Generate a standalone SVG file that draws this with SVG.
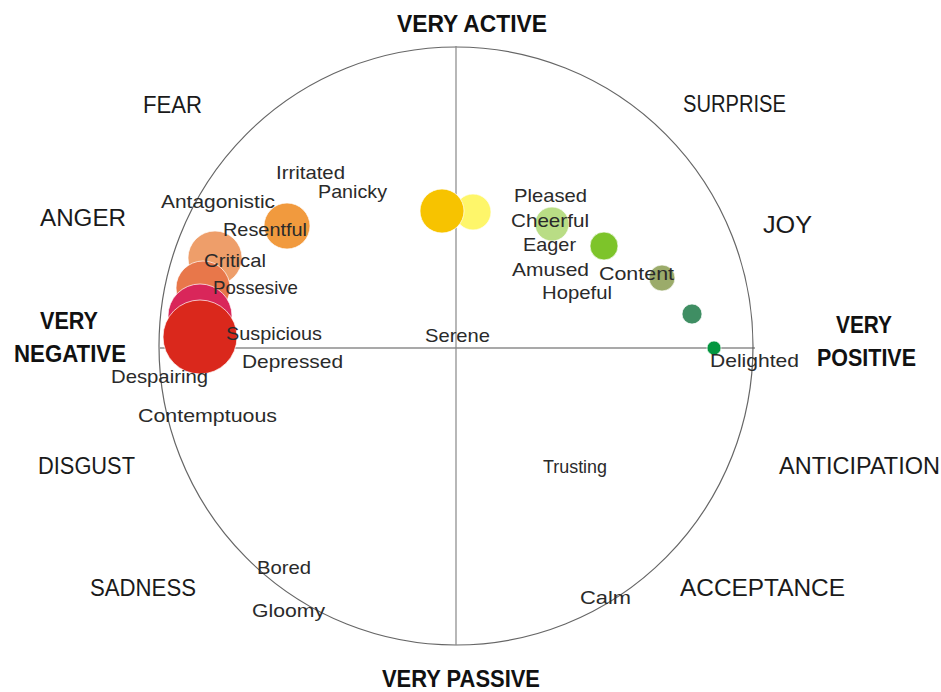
<svg xmlns="http://www.w3.org/2000/svg" width="941" height="692" viewBox="0 0 941 692">
<style>
.cat{font-family:"Liberation Sans",Arial,sans-serif;font-size:23px;fill:#1a1a1a}
.bold{font-family:"Liberation Sans",Arial,sans-serif;font-size:23px;font-weight:bold;fill:#111}
.lbl{font-family:"Liberation Sans",Arial,sans-serif;font-size:19px;fill:#2a2a2a}
.b{stroke:#fff;stroke-width:1;stroke-opacity:0.7}
</style>
<rect width="941" height="692" fill="#fff"/>
<g id="axes">
<ellipse cx="456" cy="346" rx="297" ry="299" fill="none" stroke="#666" stroke-width="1.2"/>
<line x1="160" y1="348" x2="755" y2="348" stroke="#555" stroke-width="1.2"/>
<line x1="456" y1="46" x2="456" y2="645" stroke="#888" stroke-width="1.2"/>
</g>
<g id="bubbles">
<circle id="b-resentful" class="b" cx="287" cy="226" r="23" fill="#F19A3E"/>
<circle id="b-critical" class="b" cx="215" cy="258" r="27" fill="#EE9E6A"/>
<circle id="b-possesive" class="b" cx="203" cy="288" r="27" fill="#E8774A"/>
<circle id="b-pink" class="b" cx="200" cy="316" r="32" fill="#D9265A"/>
<circle id="b-red" class="b" cx="200" cy="337" r="37" fill="#DA281C"/>
<circle id="b-lightyellow" class="b" cx="473" cy="212" r="18" fill="#FEF66A"/>
<circle id="b-yellow" class="b" cx="442" cy="211" r="22" fill="#F7C300"/>
<circle id="b-cheerful" class="b" cx="552" cy="224" r="17" fill="#B9DD85"/>
<circle id="b-eager" class="b" cx="604" cy="246" r="14" fill="#7DC42A"/>
<circle id="b-content" class="b" cx="662" cy="278" r="13" fill="#9BAB6A"/>
<circle id="b-darkgreen" class="b" cx="692" cy="314" r="10" fill="#3F8E63"/>
<circle id="b-delighted" class="b" cx="714" cy="348" r="7" fill="#03963F"/>
</g>
<g id="categories">
<text class="bold" x="397" y="32" textLength="150" lengthAdjust="spacingAndGlyphs">VERY ACTIVE</text>
<text class="bold" x="382" y="687" textLength="158" lengthAdjust="spacingAndGlyphs">VERY PASSIVE</text>
<text class="bold" x="40" y="329" textLength="58" lengthAdjust="spacingAndGlyphs">VERY</text>
<text class="bold" x="14" y="362" textLength="112" lengthAdjust="spacingAndGlyphs">NEGATIVE</text>
<text class="bold" x="836" y="333" textLength="56" lengthAdjust="spacingAndGlyphs">VERY</text>
<text class="bold" x="817" y="366" textLength="99" lengthAdjust="spacingAndGlyphs">POSITIVE</text>
<text class="cat" x="143" y="113" textLength="59" lengthAdjust="spacingAndGlyphs">FEAR</text>
<text class="cat" x="683" y="112" textLength="103" lengthAdjust="spacingAndGlyphs">SURPRISE</text>
<text class="cat" x="40" y="226" textLength="86" lengthAdjust="spacingAndGlyphs">ANGER</text>
<text class="cat" x="763" y="233" textLength="49" lengthAdjust="spacingAndGlyphs">JOY</text>
<text class="cat" x="38" y="474" textLength="97" lengthAdjust="spacingAndGlyphs">DISGUST</text>
<text class="cat" x="779" y="474" textLength="161" lengthAdjust="spacingAndGlyphs">ANTICIPATION</text>
<text class="cat" x="90" y="596" textLength="106" lengthAdjust="spacingAndGlyphs">SADNESS</text>
<text class="cat" x="680" y="596" textLength="165" lengthAdjust="spacingAndGlyphs">ACCEPTANCE</text>
</g>
<g id="labels">
<text class="lbl" x="276" y="179" textLength="69" lengthAdjust="spacingAndGlyphs">Irritated</text>
<text class="lbl" x="318" y="198" textLength="69" lengthAdjust="spacingAndGlyphs">Panicky</text>
<text class="lbl" x="161" y="208" textLength="114" lengthAdjust="spacingAndGlyphs">Antagonistic</text>
<text class="lbl" x="223" y="236" textLength="84" lengthAdjust="spacingAndGlyphs">Resentful</text>
<text class="lbl" x="204" y="267" textLength="62" lengthAdjust="spacingAndGlyphs">Critical</text>
<text class="lbl" x="213" y="294" textLength="85" lengthAdjust="spacingAndGlyphs">Possesive</text>
<text class="lbl" x="226" y="340" textLength="96" lengthAdjust="spacingAndGlyphs">Suspicious</text>
<text class="lbl" x="242" y="368" textLength="101" lengthAdjust="spacingAndGlyphs">Depressed</text>
<text class="lbl" x="111" y="383" textLength="97" lengthAdjust="spacingAndGlyphs">Despairing</text>
<text class="lbl" x="138" y="422" textLength="139" lengthAdjust="spacingAndGlyphs">Contemptuous</text>
<text class="lbl" x="425" y="342" textLength="65" lengthAdjust="spacingAndGlyphs">Serene</text>
<text class="lbl" x="543" y="473" textLength="64" lengthAdjust="spacingAndGlyphs">Trusting</text>
<text class="lbl" x="514" y="202" textLength="73" lengthAdjust="spacingAndGlyphs">Pleased</text>
<text class="lbl" x="511" y="227" textLength="78" lengthAdjust="spacingAndGlyphs">Cheerful</text>
<text class="lbl" x="523" y="251" textLength="53" lengthAdjust="spacingAndGlyphs">Eager</text>
<text class="lbl" x="512" y="276" textLength="77" lengthAdjust="spacingAndGlyphs">Amused</text>
<text class="lbl" x="542" y="299" textLength="70" lengthAdjust="spacingAndGlyphs">Hopeful</text>
<text class="lbl" x="599" y="280" textLength="75" lengthAdjust="spacingAndGlyphs">Content</text>
<text class="lbl" x="710" y="367" textLength="89" lengthAdjust="spacingAndGlyphs">Delighted</text>
<text class="lbl" x="257" y="574" textLength="54" lengthAdjust="spacingAndGlyphs">Bored</text>
<text class="lbl" x="252" y="617" textLength="73" lengthAdjust="spacingAndGlyphs">Gloomy</text>
<text class="lbl" x="580" y="604" textLength="51" lengthAdjust="spacingAndGlyphs">Calm</text>
</g>
</svg>
